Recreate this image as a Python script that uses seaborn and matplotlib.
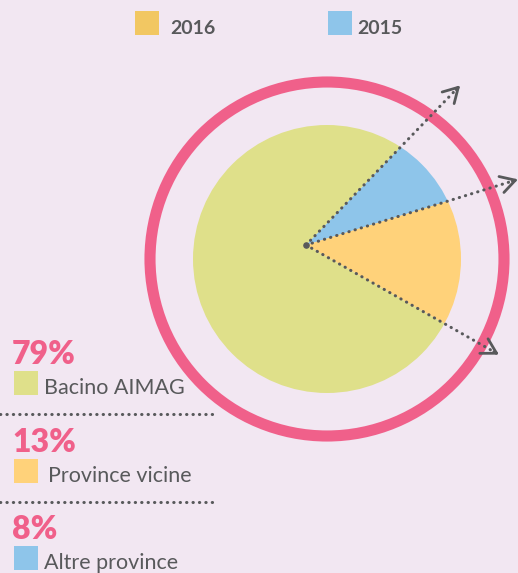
import matplotlib
matplotlib.use('Agg')
import matplotlib.pyplot as plt
from matplotlib.patches import Circle, Rectangle
import seaborn as sns
import numpy as np

# data
categories = ['Bacino AIMAG', 'Province vicine', 'Altre province']
shares = [79, 13, 8]
slice_colors = ['#DFE08A', '#FFD27A', '#8EC5EA']
legend_years = ['2016', '2015']
legend_colors = ['#F2C762', '#8EC5EA']

BG = '#F2E7F2'
PINK = '#F0608A'
GREY = '#58595B'
W, H = 518, 573

sns.set_theme(style='white', rc={'axes.facecolor': BG, 'figure.facecolor': BG})
plt.rcParams['font.family'] = ['Lato', 'DejaVu Sans']


def Y(y):
    # image row -> axes coordinate (y up)
    return H - y


fig = plt.figure(figsize=(W / 100, H / 100), dpi=100)
ax = fig.add_axes([0, 0, 1, 1])

# pie: wedges start from an off-centre vertex and are clipped by the disk
vertex = (306, Y(245))
disk_c = (327, Y(259))
disk_r = 134
wedges, _ = ax.pie(shares[::-1], colors=slice_colors[::-1], center=vertex,
                   radius=220, startangle=46, counterclock=False,
                   wedgeprops=dict(linewidth=0), frame=True)
clip = ax.add_patch(Circle(disk_c, disk_r, facecolor='none', edgecolor='none'))
for w in wedges:
    w.set_clip_on(True)
    w.set_clip_path(clip)

# pink ring
ax.add_patch(Circle(disk_c, 177, fill=False, lw=8, edgecolor=PINK))

# dotted arrows along the boundaries of the small slices
angles = sorted({round(a, 3) for w in wedges[:2] for a in (w.theta1, w.theta2)})
arrow_len = 222
for a in angles:
    t = np.deg2rad(a)
    tip = (vertex[0] + arrow_len * np.cos(t), vertex[1] + arrow_len * np.sin(t))
    ax.plot([vertex[0], tip[0]], [vertex[1], tip[1]], color=GREY, lw=2.2,
            linestyle=(0, (0.1, 2.0)), dash_capstyle='round')
    back = (tip[0] - 6 * np.cos(t), tip[1] - 6 * np.sin(t))
    ax.annotate('', xy=tip, xytext=back,
                arrowprops=dict(arrowstyle='->,head_length=0.7,head_width=0.4',
                                lw=2, color=GREY, shrinkA=0, shrinkB=0,
                                mutation_scale=15))
ax.scatter([vertex[0]], [vertex[1]], s=14, color=GREY, zorder=5)

# top legend
leg_x = [(135, 170), (328, 357)]
for (sx, tx), year, col in zip(leg_x, legend_years, legend_colors):
    ax.add_patch(Rectangle((sx, Y(35)), 24, 24, color=col, lw=0))
    ax.text(tx, Y(28), year, fontsize=14, fontweight='bold', color=GREY,
            va='center', ha='left')

# left labels
step = 87.5
for i, (cat, v, col) in enumerate(zip(categories, shares, slice_colors)):
    dy = i * step
    ax.text(12, Y(364 + dy), f'{v}%', fontsize=23, fontweight='heavy',
            color=PINK, va='baseline', ha='left')
    ax.add_patch(Rectangle((14, Y(395 + dy)), 24, 24, color=col, lw=0))
    ax.text(44 if i != 1 else 48, Y(394 + dy), cat, fontsize=15.5, color=GREY,
            va='baseline', ha='left')
    if i < len(categories) - 1:
        ax.plot([0, 218], [Y(414 + dy), Y(414 + dy)], color=GREY, lw=2.2,
                linestyle=(0, (0.1, 2.0)), dash_capstyle='round')

ax.set_xlim(0, W)
ax.set_ylim(0, H)
ax.set_aspect('equal', adjustable='box')
ax.axis('off')

fig.savefig('out.png', dpi=100, facecolor=BG)
